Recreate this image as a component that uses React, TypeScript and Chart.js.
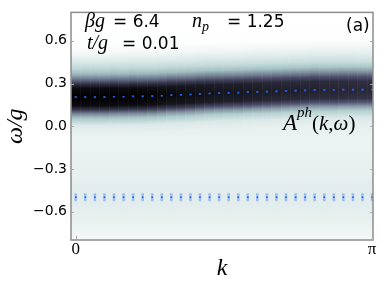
import React, { useEffect, useRef } from "react";
import { Chart, registerables } from "chart.js";
Chart.register(...registerables);

// momentum grid (0..π, 32 points)
const kValues = [0, 0.101, 0.203, 0.304, 0.405, 0.507, 0.608, 0.709, 0.811, 0.912, 1.013, 1.115, 1.216, 1.317, 1.419, 1.52, 1.621, 1.723, 1.824, 1.925, 2.027, 2.128, 2.229, 2.331, 2.432, 2.533, 2.635, 2.736, 2.837, 2.939, 3.04, 3.142];
// upper (phonon-like) peak positions ω/g with error bars
const upperOmega = [0.205, 0.205, 0.205, 0.205, 0.207, 0.207, 0.209, 0.209, 0.211, 0.214, 0.218, 0.22, 0.223, 0.227, 0.23, 0.232, 0.234, 0.236, 0.239, 0.241, 0.243, 0.245, 0.248, 0.25, 0.252, 0.255, 0.255, 0.255, 0.257, 0.257, 0.257, 0.257];
const upperErr = [0.006, 0.006, 0.006, 0.006, 0.006, 0.006, 0.006, 0.006, 0.006, 0.006, 0.006, 0.006, 0.006, 0.006, 0.006, 0.006, 0.006, 0.006, 0.006, 0.006, 0.006, 0.006, 0.006, 0.006, 0.006, 0.006, 0.006, 0.006, 0.006, 0.006, 0.006, 0.006];
// lower peak positions ω/g with error bars
const lowerOmega = [-0.5, -0.5, -0.5, -0.5, -0.5, -0.5, -0.5, -0.5, -0.5, -0.5, -0.5, -0.5, -0.5, -0.5, -0.5, -0.5, -0.5, -0.5, -0.5, -0.5, -0.5, -0.5, -0.5, -0.5, -0.5, -0.5, -0.5, -0.5, -0.5, -0.5, -0.5, -0.5];
const lowerErr = [0.028, 0.028, 0.028, 0.028, 0.028, 0.028, 0.028, 0.028, 0.028, 0.028, 0.028, 0.028, 0.028, 0.028, 0.028, 0.028, 0.028, 0.028, 0.028, 0.028, 0.028, 0.028, 0.028, 0.028, 0.028, 0.028, 0.028, 0.028, 0.028, 0.028, 0.028, 0.028];

// spectral weight A^ph(k,ω): band profile relative to the upper peak
const bandOffset = [-0.25, -0.2, -0.15, -0.12, -0.09, -0.06, 0, 0.06, 0.09, 0.12, 0.16, 0.2, 0.25, 0.3, 0.35, 0.45];
const bandWeight = [0.07, 0.1, 0.25, 0.45, 0.75, 0.95, 1.0, 0.95, 0.78, 0.55, 0.3, 0.18, 0.1, 0.04, 0.01, 0.0];
const bandAmp = [1, 1, 1, 1, 1, 0.99, 1, 0.99, 0.98, 0.97, 0.96, 0.95, 0.94, 0.93, 0.92, 0.91, 0.9, 0.9, 0.89, 0.88, 0.87, 0.87, 0.86, 0.86, 0.85, 0.85, 0.84, 0.84, 0.83, 0.83, 0.82, 0.82];
// background weight at fixed ω (below the band)
const bgOmega = [-0.8, -0.75, -0.65, -0.55, -0.5, -0.45, -0.35, -0.25, -0.15, -0.08];
const bgWeight = [0.03, 0.045, 0.065, 0.08, 0.085, 0.08, 0.07, 0.065, 0.06, 0.06];

const yTickValues = [-0.6, -0.3, 0, 0.3, 0.6];
const yTickLabels = ["\u22120.6", "\u22120.3", "0.0", "0.3", "0.6"];
const xTickValues = [0, 3.14159];
const xTickLabels = ["0", "\u03c0"];

// matplotlib "bone" colormap segments
const boneR = [[0, 0], [0.746032, 0.652778], [1, 1]];
const boneG = [[0, 0], [0.365079, 0.319444], [0.746032, 0.777778], [1, 1]];
const boneB = [[0, 0], [0.365079, 0.444444], [1, 1]];
function seg(s: number[][], x: number) {
  for (let i = 1; i < s.length; i++) {
    if (x <= s[i][0]) {
      const [x0, y0] = s[i - 1];
      const [x1, y1] = s[i];
      return y0 + ((x - x0) / (x1 - x0)) * (y1 - y0);
    }
  }
  return s[s.length - 1][1];
}
function boneR_(w: number) {
  const x = Math.max(0, Math.min(1, 1 - w));
  const r = Math.round(seg(boneR, x) * 255);
  const g = Math.round(seg(boneG, x) * 255);
  const b = Math.round(seg(boneB, x) * 255);
  return `rgb(${r},${g},${b})`;
}

const Y_MIN = -0.8;
const Y_MAX = 0.8;

const heatmapPlugin = {
  id: "heatmap",
  beforeDatasetsDraw(chart: any) {
    const { ctx, chartArea: a, scales } = chart;
    const xs = scales.x;
    const ys = scales.y;
    const dk = kValues[1] - kValues[0];
    ctx.save();
    ctx.beginPath();
    ctx.rect(a.left, a.top, a.right - a.left, a.bottom - a.top);
    ctx.clip();
    ctx.fillStyle = "#fff";
    ctx.fillRect(a.left, a.top, a.right - a.left, a.bottom - a.top);
    const yTop = ys.getPixelForValue(Y_MAX);
    const yBot = ys.getPixelForValue(Y_MIN);
    kValues.forEach((k, i) => {
      const x0 = Math.floor(xs.getPixelForValue(k - dk / 2));
      const x1 = Math.ceil(xs.getPixelForValue(k + dk / 2));
      const grad = ctx.createLinearGradient(0, yTop, 0, yBot);
      const stops: [number, number][] = [];
      const peak = upperOmega[i];
      bandOffset.forEach((o, j) => {
        const w = peak + o;
        if (w <= Y_MAX) stops.push([w, bandWeight[j] * (j > 1 && j < 13 ? bandAmp[i] : 1)]);
      });
      stops.push([Y_MAX, 0]);
      bgOmega.forEach((w, j) => {
        if (w < peak + bandOffset[0]) stops.push([w, bgWeight[j]]);
      });
      stops.sort((p, q) => q[0] - p[0]);
      stops.forEach(([w, v]) => {
        const f = (Y_MAX - w) / (Y_MAX - Y_MIN);
        grad.addColorStop(Math.max(0, Math.min(1, f)), boneR_(v));
      });
      ctx.fillStyle = grad;
      ctx.fillRect(x0, a.top, x1 - x0, a.bottom - a.top);
      ctx.fillStyle = "rgba(255,255,255,0.04)";
      ctx.fillRect(x0, a.top, 1, a.bottom - a.top);
    });
    // error bars
    ctx.strokeStyle = "rgba(70,130,255,0.45)";
    ctx.lineWidth = 2.5;
    kValues.forEach((k, i) => {
      const x = xs.getPixelForValue(k);
      [[lowerOmega[i], lowerErr[i]], [upperOmega[i], upperErr[i]]].forEach(([v, e]) => {
        ctx.beginPath();
        ctx.moveTo(x, ys.getPixelForValue(v - e));
        ctx.lineTo(x, ys.getPixelForValue(v + e));
        ctx.stroke();
      });
    });
    ctx.restore();
  },
};

function drawRuns(ctx: CanvasRenderingContext2D, x: number, y: number, runs: [string, string, number][]) {
  let cx = x;
  runs.forEach(([t, font, dy]) => {
    ctx.font = font;
    ctx.fillText(t, cx, y + dy);
    cx += ctx.measureText(t).width;
  });
}

const SERIF = '"Liberation Serif", "DejaVu Serif", serif';
const SANS = '"DejaVu Sans", sans-serif';

const decorPlugin = {
  id: "decor",
  afterDraw(chart: any) {
    const { ctx, chartArea: a, scales } = chart;
    ctx.save();
    // frame
    ctx.strokeStyle = "#8c8c8c";
    ctx.lineWidth = 1.5;
    ctx.strokeRect(a.left, a.top, a.right - a.left, a.bottom - a.top);
    // inward ticks
    ctx.strokeStyle = "#a8a8a8";
    ctx.lineWidth = 1;
    xTickValues.forEach((v) => {
      const x = Math.round(scales.x.getPixelForValue(v)) + 0.5;
      ctx.beginPath();
      ctx.moveTo(x, a.bottom);
      ctx.lineTo(x, a.bottom - 4);
      ctx.stroke();
    });
    yTickValues.forEach((v) => {
      const y = Math.round(scales.y.getPixelForValue(v)) + 0.5;
      ctx.beginPath();
      ctx.moveTo(a.left, y);
      ctx.lineTo(a.left + 3, y);
      ctx.moveTo(a.right, y);
      ctx.lineTo(a.right - 3, y);
      ctx.stroke();
    });
    ctx.fillStyle = "#000";
    ctx.textBaseline = "alphabetic";
    ctx.textAlign = "left";
    const it = `italic 20px ${SERIF}`;
    const sub = `italic 14px ${SERIF}`;
    const sans = `17px ${SANS}`;
    drawRuns(ctx, 85, 26.5, [["\u03b2g", it, 0]]);
    drawRuns(ctx, 113, 26.5, [["= 6.4", sans, 0]]);
    drawRuns(ctx, 192, 26.5, [["n", it, 0], ["p", sub, 4]]);
    drawRuns(ctx, 227, 26.5, [["= 1.25", sans, 0]]);
    drawRuns(ctx, 87, 48.5, [["t/g", it, 0]]);
    drawRuns(ctx, 122, 48.5, [["= 0.01", sans, 0]]);
    drawRuns(ctx, 346, 31, [["(a)", sans, 0]]);
    drawRuns(ctx, 283, 129.5, [
      ["A", `italic 23px ${SERIF}`, 0],
      ["ph", `italic 15px ${SERIF}`, -13],
      ["(", `21px ${SERIF}`, 0],
      ["k", `italic 21px ${SERIF}`, 0],
      [",", `21px ${SERIF}`, 0],
      ["\u03c9", `italic 21px ${SERIF}`, 0],
      [")", `21px ${SERIF}`, 0],
    ]);
    ctx.restore();
  },
};

export default function App() {
  const ref = useRef<HTMLCanvasElement | null>(null);
  useEffect(() => {
    document.body.style.margin = "0";
    const canvas = ref.current;
    if (!canvas) return;
    const chart = new Chart(canvas, {
      type: "scatter",
      data: {
        datasets: [
          {
            label: "upper",
            data: kValues.map((k, i) => ({ x: k, y: upperOmega[i] })),
            pointStyle: "rect",
            pointRadius: 1.2,
            backgroundColor: "#1f5cff",
            borderColor: "#1f5cff",
            borderWidth: 0,
          },
          {
            label: "lower",
            data: kValues.map((k, i) => ({ x: k, y: lowerOmega[i] })),
            pointStyle: "rect",
            pointRadius: 1.1,
            backgroundColor: "#1f5cff",
            borderColor: "#1f5cff",
            borderWidth: 0,
          },
        ],
      },
      options: {
        animation: false,
        responsive: false,
        devicePixelRatio: 1,
        layout: { padding: { top: 5, right: 9, left: 0, bottom: 0 } },
        plugins: { legend: { display: false }, tooltip: { enabled: false } },
        scales: {
          x: {
            type: "linear",
            min: -(kValues[1] - kValues[0]) / 2,
            max: 3.1516,
            grid: { display: false, drawTicks: false },
            border: { display: false },
            afterBuildTicks: (s: any) => {
              s.ticks = xTickValues.map((v) => ({ value: v }));
            },
            afterFit: (s: any) => {
              s.height = 47;
            },
            ticks: {
              autoSkip: false,
              maxRotation: 0,
              padding: -1,
              color: "#000",
              font: { family: SERIF, size: 17 },
              callback: (_v: any, i: number) => xTickLabels[i],
            },
            title: {
              display: true,
              text: "k",
              color: "#000",
              font: { family: SERIF, size: 24, style: "italic" },
              padding: { top: 0, bottom: 4 },
            },
          },
          y: {
            type: "linear",
            min: Y_MIN,
            max: Y_MAX,
            grid: { display: false, drawTicks: false },
            border: { display: false },
            afterBuildTicks: (s: any) => {
              s.ticks = yTickValues.map((v) => ({ value: v }));
            },
            afterFit: (s: any) => {
              s.width = 71;
            },
            ticks: {
              padding: 4,
              color: "#000",
              font: { family: SANS, size: 14 },
              callback: (_v: any, i: number) => yTickLabels[i],
            },
            title: {
              display: true,
              text: "\u03c9/g",
              color: "#000",
              font: { family: SERIF, size: 24, style: "italic" },
              padding: { top: 1, bottom: 0 },
            },
          },
        },
      },
      plugins: [heatmapPlugin, decorPlugin],
    } as any);
    return () => chart.destroy();
  }, []);
  return (
    <div style={{ width: 382, height: 287 }}>
      <canvas ref={ref} width={382} height={287} />
    </div>
  );
}
